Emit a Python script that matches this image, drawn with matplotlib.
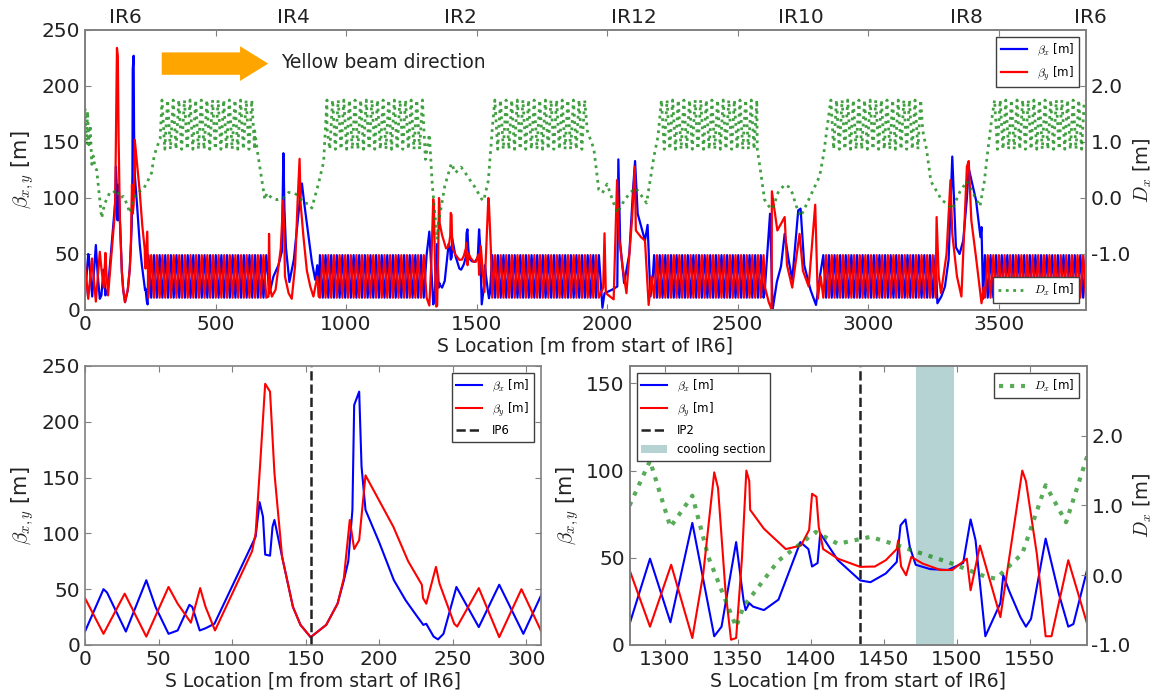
import numpy as np
import matplotlib
matplotlib.use('Agg')
import matplotlib.pyplot as plt
from matplotlib.patches import Patch
from matplotlib.lines import Line2D

# ---------------- data ----------------
# IR6 close-up (bottom-left panel)
BL_S_BX = [0, 12.6, 15, 27.8, 41.7, 48, 56.8, 63, 71, 73, 78, 82, 88, 116, 118.7, 121, 122.5, 125.8, 127.5, 128.8,
           134, 141.4, 146.5, 153.4, 164, 171.7, 176, 179, 181.8, 183, 186.4, 188, 190.7, 200, 210, 218, 225, 230,
           232, 237, 240, 243.7, 252.5, 267.7, 281.6, 298, 310.6]
BL_BX = [12, 50, 47, 12, 58, 34, 10, 13, 36, 34, 13, 15, 19, 97, 128, 115, 81, 80, 106, 112,
         79, 34, 18, 7, 18, 37, 58, 75, 121, 215, 227, 160, 121, 92, 58, 40, 27, 18,
         19, 7.5, 5, 10, 52, 16, 54, 10, 46]
BL_S_BY = [0, 12.6, 27, 41.7, 56.8, 63, 72, 78.3, 80, 82, 88.4, 113.6, 116, 119, 122.5, 125.8, 128.8, 134, 141.4,
           146.5, 153.4, 164, 171.7, 176, 180, 183, 186.4, 190.7, 209.6, 219.7, 229, 229.8, 232, 238.6, 241, 251,
           253, 267.7, 281.6, 296.7, 310.6]
BL_BY = [42, 10, 46, 7.5, 52, 37, 20, 51, 43, 34, 13, 84, 100, 160, 234, 227, 154, 79, 34,
         18, 7, 18, 37, 60, 112, 86, 94, 152, 106, 75, 54, 42, 37, 70, 55, 19,
         16.5, 51, 7, 50, 11]
IP6 = 153.4

# IR2 close-up (bottom-right panel)
BR_S_BX = [1276, 1290, 1304, 1319, 1334, 1339, 1349, 1354, 1355.5, 1358, 1360.6, 1368, 1378, 1393, 1398.5, 1401,
           1404.8, 1406.6, 1418.7, 1434, 1441, 1451.5, 1459, 1461.6, 1465, 1468, 1472, 1482, 1494, 1504.5, 1509.6,
           1513, 1519.7, 1530, 1532, 1536, 1543.7, 1547.5, 1551, 1561, 1570, 1576.5, 1580, 1590]
BR_BX = [12, 49.5, 13, 70, 5, 10.5, 59, 26, 20, 24, 22, 20, 26, 59, 55, 45,
         47, 64, 48.6, 37, 36, 41, 47.6, 68.6, 72, 56, 46, 43.5, 43, 47, 72,
         60, 5, 24, 40, 31, 16, 10.5, 15, 61, 29.5, 10.5, 12, 45]
BR_S_BY = [1276, 1290, 1304.5, 1319, 1326.5, 1334, 1336.6, 1341.7, 1345.5, 1349, 1353, 1356, 1358, 1358.6, 1368,
           1383, 1393.4, 1399, 1401, 1404, 1405.6, 1408.6, 1418.7, 1434, 1444, 1451.5, 1459, 1460, 1462, 1465.4,
           1469, 1476.7, 1489, 1497, 1507, 1509.6, 1516, 1530, 1545, 1547.5, 1555, 1561, 1565, 1576.5, 1590]
BR_BY = [43, 10.5, 46, 4, 41, 99, 90, 31, 3, 4, 50, 100, 94, 77.5, 66.7,
         55, 57, 66, 86.7, 85, 67.6, 55, 49.5, 44.8, 45, 48.6, 55, 60, 45, 40,
         50.5, 46.7, 43, 43, 49.5, 31.4, 57, 16, 100, 94, 52, 5, 5, 48.6, 10.5]
BR_S_DX = [1276, 1290, 1304, 1319, 1330, 1349, 1354, 1378, 1393, 1403.5, 1418.7, 1441, 1456.6, 1469, 1494,
           1519.7, 1527, 1545, 1561, 1575, 1590]
BR_DX = [1.0, 1.64, 0.69, 1.14, 0.26, -0.74, -0.45, 0.21, 0.45, 0.62, 0.45, 0.55, 0.45, 0.36, 0.19,
         -0.02, -0.05, 0.31, 1.29, 0.76, 1.74]
IP2 = 1433.5
COOLING = [1472, 1498]

# Whole ring (top panel): one measured arc FODO cell, and the arc extents
ARC_CELL_LENGTH = 21.5
ARC_CELL_OFFSETS = [0.0, 10.75]
ARC_BX_CELL = [49, 11]
ARC_BY_CELL = [11, 49]
ARC_DX_CELL = [1.75, 0.87]
BETA_ARC_START = [243, 900, 1560, 2180, 2828, 3447]
BETA_ARC_END = [700, 1310, 1978, 2600, 3258, 3834]
DX_ARC_START = [295, 927, 1570, 2208, 2857, 3484]
DX_ARC_END = [650, 1297, 1924, 2575, 3209, 3834]

# insertion regions of the ring not shown in the close-ups
T6_S_DX = [0, 5, 10, 15, 20, 26, 32, 38, 45, 64, 75, 83, 95, 108, 120, 135, 147, 160, 172, 185, 198, 223, 240,
           255, 265, 275, 288]
T6_DX = [1.6, 0.95, 1.55, 0.95, 1.3, 0.6, 0.75, 0.55, 0.5, -0.36, -0.1, -0.03, 0.1, 0.09, 0.15, 0.0, 0.03, -0.1,
         -0.27, -0.05, 0.09, 0.15, 0.3, 0.45, 0.75, 0.9, 1.06]

T4_S_BX = [706, 712, 722, 741, 754, 760, 764, 770, 783, 800, 815, 826, 831, 840, 850, 869, 882, 890, 896]
T4_BX = [15, 20, 30, 40, 52, 140, 90, 55, 25, 45, 80, 105, 113, 95, 77, 43, 27, 40, 12]
T4_S_BY = [703, 705, 709, 716, 730, 750, 759, 763, 766, 780, 792, 805, 815, 822, 826, 837, 850, 863, 875, 890, 896]
T4_BY = [12, 68, 20, 12, 18, 55, 98, 70, 30, 15, 10, 40, 100, 135, 95, 65, 35, 21, 12, 30, 12]
T4_S_DX = [650, 661, 675, 689, 697, 715, 735, 760, 780, 799, 815, 837, 855, 869, 895, 914, 927]
T4_DX = [1.2, 0.82, 0.4, -0.03, 0.09, 0.0, -0.03, 0.0, 0.1, 0.09, 0.05, -0.09, -0.1, -0.18, 0.27, 0.64, 1.24]

T12_S_BX = [1982, 1990, 2018, 2039, 2043, 2050, 2065, 2085, 2100, 2107, 2117, 2145, 2155, 2166, 2175]
T12_BX = [2, 15, 18, 21, 134.5, 60, 24, 50, 110, 133, 86, 62, 76, 12, 30]
T12_S_BY = [1985, 1990, 1995, 2025, 2038, 2045, 2059, 2074, 2095, 2106, 2110, 2130, 2145, 2159, 2170]
T12_BY = [20, 68.5, 15, 9.5, 116, 66, 39, 15, 80, 128, 71, 65, 62, 4.5, 30]
T12_S_DX = [1924, 1949, 1968, 1982, 2000, 2018, 2039, 2067, 2090, 2109, 2130, 2151, 2180, 2195]
T12_DX = [1.2, 0.88, 0.15, 0.09, 0.25, 0.0, -0.27, -0.03, 0.1, 0.18, 0.05, -0.09, 0.76, 1.1]

T10_S_BX = [2603, 2624, 2634, 2650, 2666, 2680, 2695, 2709, 2732, 2741, 2755, 2779, 2800, 2815]
T10_BX = [15, 86, 0.5, 25, 39, 68, 45, 27, 89, 90.5, 40, 18, 4.5, 30]
T10_S_BY = [2605, 2619, 2630, 2631, 2652, 2680, 2689, 2709, 2737, 2750, 2772, 2797, 2807, 2818]
T10_BY = [20, 7, 0.5, 106, 71, 83, 40, 20, 68, 35, 21, 94, 10, 30]
T10_S_DX = [2575, 2590, 2603, 2620, 2634, 2655, 2680, 2695, 2709, 2725, 2741, 2755, 2772, 2795, 2814, 2830, 2842]
T10_DX = [0.88, 0.4, -0.03, -0.15, -0.2, 0.1, 0.24, 0.2, 0.09, -0.15, -0.33, -0.2, -0.03, 0.2, 0.39, 0.8, 1.24]

T8_S_BX = [3265, 3280, 3294, 3308, 3322, 3336, 3350, 3364, 3378, 3385, 3413, 3430, 3434, 3440]
T8_BX = [6, 12, 21, 45, 137, 56, 50, 62, 100, 126.5, 98, 65, 74, 10]
T8_S_BY = [3262, 3270, 3279, 3300, 3315, 3322, 3340, 3357, 3378, 3385, 3395, 3413, 3434, 3442]
T8_BY = [83, 30, 15, 50, 116, 68, 30, 12, 128, 133, 80, 47, 6, 20]
T8_S_DX = [3209, 3223, 3240, 3252, 3265, 3280, 3300, 3322, 3350, 3378, 3400, 3428, 3445, 3456, 3470]
T8_DX = [1.2, 0.88, 0.3, 0.2, 0.1, -0.03, -0.1, -0.2, 0.1, 0.3, 0.1, -0.15, 0.3, 0.76, 1.3]

IR_LABELS = ["IR6", "IR4", "IR2", "IR12", "IR10", "IR8", "IR6"]
IR_LABEL_POS = [155, 798, 1438, 2103, 2743, 3375, 3852]


# ---------------- helpers ----------------
def clip(s, v, lo, hi):
    s = np.asarray(s, float)
    v = np.asarray(v, float)
    m = (s >= lo) & (s <= hi)
    return s[m], v[m]


def arcs(starts, ends, cell_vals):
    so, vo = [], []
    for a, b in zip(starts, ends):
        n = int((b - a) // ARC_CELL_LENGTH)
        for k in range(n + 1):
            for off, val in zip(ARC_CELL_OFFSETS, cell_vals):
                s = a + k * ARC_CELL_LENGTH + off
                if s <= b:
                    so.append(s)
                    vo.append(val)
    return so, vo


def assemble(pieces):
    s = np.concatenate([np.asarray(p[0], float) for p in pieces])
    v = np.concatenate([np.asarray(p[1], float) for p in pieces])
    o = np.argsort(s, kind='stable')
    return s[o], v[o]


top_bx = assemble([clip(BL_S_BX, BL_BX, 0, 240), arcs(BETA_ARC_START, BETA_ARC_END, ARC_BX_CELL),
                   (T4_S_BX, T4_BX), clip(BR_S_BX, BR_BX, 1312, 1556), (T12_S_BX, T12_BX),
                   (T10_S_BX, T10_BX), (T8_S_BX, T8_BX)])
top_by = assemble([clip(BL_S_BY, BL_BY, 0, 240), arcs(BETA_ARC_START, BETA_ARC_END, ARC_BY_CELL),
                   (T4_S_BY, T4_BY), clip(BR_S_BY, BR_BY, 1312, 1556), (T12_S_BY, T12_BY),
                   (T10_S_BY, T10_BY), (T8_S_BY, T8_BY)])
top_dx = assemble([(T6_S_DX, T6_DX), arcs(DX_ARC_START, DX_ARC_END, ARC_DX_CELL),
                   (T4_S_DX, T4_DX), clip(BR_S_DX, BR_DX, 1300, 1565), (T12_S_DX, T12_DX),
                   (T10_S_DX, T10_DX), (T8_S_DX, T8_DX)])

# ---------------- style ----------------
plt.rcParams.update({
    'font.family': ['DejaVu Sans'],
    'mathtext.fontset': 'cm',
    'xtick.direction': 'in', 'ytick.direction': 'in',
    'xtick.top': True, 'ytick.right': True,
    'axes.edgecolor': '#808080', 'axes.linewidth': 1.2,
    'xtick.color': '#808080', 'ytick.color': '#808080',
    'xtick.labelcolor': '#222222', 'ytick.labelcolor': '#222222',
    'xtick.labelsize': 14.5, 'ytick.labelsize': 14.5,
    'xtick.major.size': 4, 'ytick.major.size': 4,
    'legend.fontsize': 8.5, 'legend.fancybox': False, 'legend.edgecolor': '#404040',
    'legend.framealpha': 1, 'axes.labelsize': 13.5, 'axes.labelcolor': '#222222',
})

BLUE, RED, GREEN = '#0000ff', '#ff0000', '#118811'
YL = r'$\beta_{x,y}$ [m]'
XL = 'S Location [m from start of IR6]'

fig = plt.figure(figsize=(11.56, 6.96), dpi=100)

# ---- top: whole ring ----
ax1 = fig.add_axes([0.0735, 0.5546, 0.8659, 0.4023])
ax1.plot(*top_bx, color=BLUE, lw=1.6, label=r'$\beta_x$ [m]')
ax1.plot(*top_by, color=RED, lw=1.6, label=r'$\beta_y$ [m]')
ax1.set_xlim(0, 3834)
ax1.set_ylim(0, 250)
ax1.set_xticks([0, 500, 1000, 1500, 2000, 2500, 3000, 3500])
ax1.set_yticks([0, 50, 100, 150, 200, 250])
ax1.tick_params(axis='y', right=False)
ax1.set_xlabel(XL, labelpad=2)
ax1.set_ylabel(YL, fontsize=15)
ax1.arrow(294, 220, 408, 0, width=20, head_width=31, head_length=108, length_includes_head=True,
          fc='orange', ec='none', zorder=4)
ax1.text(752, 221, 'Yellow beam direction', va='center', ha='left', fontsize=13.5, color='#222222')
for lab, pos in zip(IR_LABELS, IR_LABEL_POS):
    ax1.text(pos, 1.012, lab, transform=ax1.get_xaxis_transform(), ha='center', va='bottom',
             fontsize=14.5, color='#222222', clip_on=False)
ax1t = ax1.twinx()
ax1t.plot(*top_dx, color=GREEN, ls=':', lw=2.0, alpha=0.8, label=r'$D_x$ [m]')
ax1t.set_ylim(-2, 3)
ax1t.set_yticks([-1, 0, 1, 2])
ax1t.set_yticklabels(['-1.0', '0.0', '1.0', '2.0'])
ax1t.set_ylabel(r'$D_x$ [m]', fontsize=14, labelpad=1)
lg1 = ax1t.legend(handles=ax1.get_lines(), loc='upper right', borderaxespad=0.6, handlelength=2.2)
ax1t.add_artist(lg1)
ax1t.legend(loc='lower right', borderaxespad=0.6, handlelength=2.2)

# ---- bottom-left: IR6 ----
ax2 = fig.add_axes([0.0735, 0.0733, 0.3945, 0.4009])
ax2.plot(BL_S_BX, BL_BX, color=BLUE, lw=1.5, label=r'$\beta_x$ [m]')
ax2.plot(BL_S_BY, BL_BY, color=RED, lw=1.5, label=r'$\beta_y$ [m]')
ax2.axvline(IP6, color='#222222', ls='--', lw=1.8, label='IP6')
ax2.set_xlim(0, 310)
ax2.set_ylim(0, 250)
ax2.set_xticks([0, 50, 100, 150, 200, 250, 300])
ax2.set_yticks([0, 50, 100, 150, 200, 250])
ax2.set_xlabel(XL, labelpad=2)
ax2.set_ylabel(YL, fontsize=15)
ax2.legend(loc='upper right', borderaxespad=0.6, handlelength=2.2)

# ---- bottom-right: IR2 ----
ax3 = fig.add_axes([0.5446, 0.0733, 0.3953, 0.4009])
ax3.axvspan(COOLING[0], COOLING[1], color='#5f9ea0', alpha=0.45, lw=0)
ax3.plot(BR_S_BX, BR_BX, color=BLUE, lw=1.5)
ax3.plot(BR_S_BY, BR_BY, color=RED, lw=1.5)
ax3.axvline(IP2, color='#222222', ls='--', lw=1.8)
ax3.set_xlim(1276, 1589)
ax3.set_ylim(0, 160)
ax3.set_xticks([1300, 1350, 1400, 1450, 1500, 1550])
ax3.set_yticks([0, 50, 100, 150])
ax3.tick_params(axis='y', right=False)
ax3.set_xlabel(XL, labelpad=2)
ax3.set_ylabel(YL, fontsize=15)
ax3t = ax3.twinx()
ax3t.plot(BR_S_DX, BR_DX, color=GREEN, ls=':', lw=3, alpha=0.7, label=r'$D_x$ [m]')
ax3t.set_ylim(-1, 3)
ax3t.set_yticks([-1, 0, 1, 2])
ax3t.set_yticklabels(['-1.0', '0.0', '1.0', '2.0'])
ax3t.set_ylabel(r'$D_x$ [m]', fontsize=14, labelpad=1)
h3 = [Line2D([], [], color=BLUE, lw=1.5), Line2D([], [], color=RED, lw=1.5),
      Line2D([], [], color='#222222', ls='--', lw=1.8), Patch(color='#5f9ea0', alpha=0.45, lw=0)]
l3 = [r'$\beta_x$ [m]', r'$\beta_y$ [m]', 'IP2', 'cooling section']
lg3 = ax3t.legend(h3, l3, loc='upper left', borderaxespad=0.6, handlelength=2.2)
ax3t.add_artist(lg3)
ax3t.legend(loc='upper right', borderaxespad=0.6, handlelength=2.2)

fig.savefig('out.png', dpi=100, facecolor='white')
